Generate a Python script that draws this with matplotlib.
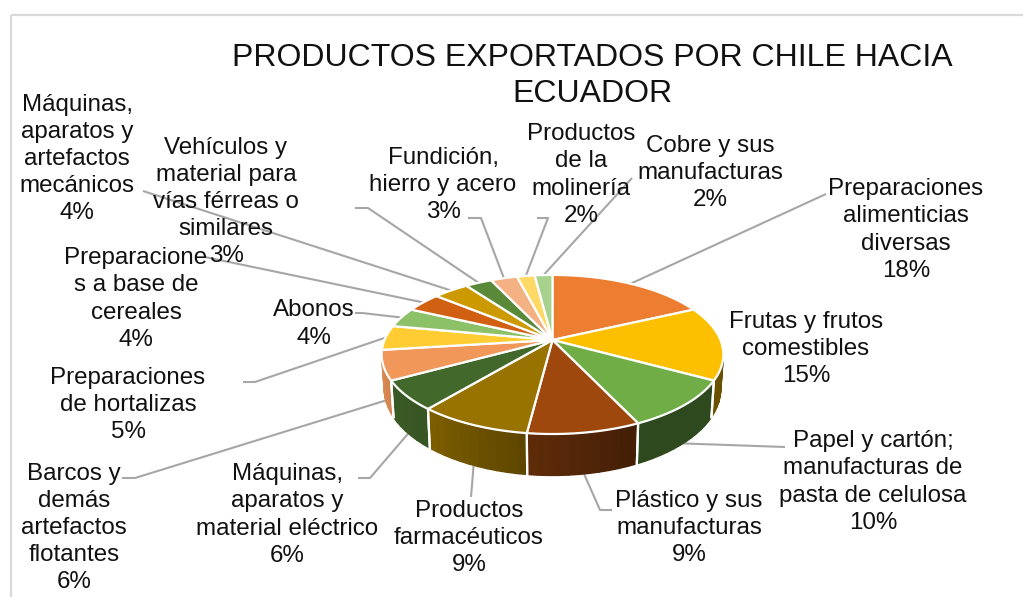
import numpy as np
import matplotlib
matplotlib.use("Agg")
import matplotlib.pyplot as plt
from matplotlib.colors import to_rgb
from matplotlib.patches import Polygon, Rectangle

plt.rcParams['font.family'] = ['Liberation Sans', 'DejaVu Sans']

TITLE = "PRODUCTOS EXPORTADOS POR CHILE HACIA\nECUADOR"
labels = ["Preparaciones\nalimenticias\ndiversas", "Frutas y frutos\ncomestibles",
          "Papel y cartón;\nmanufacturas de\npasta de celulosa", "Plástico y sus\nmanufacturas",
          "Productos\nfarmacéuticos", "Máquinas,\naparatos y\nmaterial eléctrico",
          "Barcos y\ndemás\nartefactos\nflotantes", "Preparaciones\nde hortalizas",
          "Abonos", "Preparacione\ns a base de\ncereales",
          "Máquinas,\naparatos y\nartefactos\nmecánicos",
          "Vehículos y\nmaterial para\nvías férreas o\nsimilares",
          "Fundición,\nhierro y acero", "Productos\nde la\nmolinería", "Cobre y sus\nmanufacturas"]
values = [18, 15, 10, 9, 9, 6, 6, 5, 4, 4, 4, 3, 3, 2, 2]
colors = ["#ED7D31", "#FCC000", "#70AD47", "#9E480E", "#997300", "#43682B",
          "#F1975A", "#FFCD33", "#8CC168", "#D26012", "#CC9A00", "#5A8A39",
          "#F4B183", "#FFD966", "#A9D18E"]

# pie geometry in pixels
CX, CY, RX, RY, K = 552.5, 340.0, 168.0, 76.9, 0.182
WALL_SX, WALL_SY, WALL_D = 0.985, 1.09, 33.0
GREY = "#A6A6A6"

# label centre and leader waypoints from label towards pie; wall=True ends on lower edge
label_pos = [(906, 230), (806, 349), (873, 482), (689, 528), (469, 538), (287, 515),
             (74, 528), (128, 405), (314, 324), (136, 299), (77, 159), (226, 202),
             (443, 185), (581, 175), (710, 173)]
leaders = [[(826, 194)], None, [(785, 447)], [(612, 510), (600, 510)], [(471, 497)],
           [(358, 478), (370, 478)], [(122, 478), (135, 478)], [(243, 382), (255, 382)],
           [(355, 313), (362, 313)], [(205, 257)], [(143, 191)], [(355, 208), (368, 208)],
           [(468, 218), (481, 218)], [(537, 218), (548, 218)], [(632, 178)]]
wall_end = [False, False, True, True, True, True, True] + [False] * 8


def top_xy(theta):
    t = np.radians(theta)
    u, v = np.sin(t), np.cos(t)
    d = 1 + K * v
    return RX * u / d, -RY * v / d


def to_top(theta):
    x, y = top_xy(theta)
    return CX + x, CY + y


def to_bottom(theta):
    x, y = top_xy(theta)
    return CX + WALL_SX * x, CY + WALL_D + WALL_SY * y


def shade(theta):
    return np.interp(theta, [100, 155, 190, 220, 240, 270], [.42, .42, .62, .82, .87, .92])


fig = plt.figure(figsize=(10.23, 5.97), dpi=100)
ax = fig.add_axes([0, 0, 1, 1])
ax.set_xlim(0, 1023)
ax.set_ylim(597, 0)
ax.axis("off")

ax.add_patch(Rectangle((10.5, 15), 1100, 700, fill=False, ec="#D9D9D9", lw=1.6, zorder=0))

edges = np.concatenate([[0], np.cumsum(values)]) / np.sum(values) * 360.0

# leader lines
for i, path in enumerate(leaders):
    if path is None:
        continue
    mid = (edges[i] + edges[i + 1]) / 2
    end = to_bottom(mid) if wall_end[i] else to_top(mid)
    pts = np.array(path + [end])
    ax.plot(pts[:, 0], pts[:, 1], color=GREY, lw=1.5, zorder=1, solid_capstyle="butt")

# side walls
WALL_LO, WALL_HI = 97.0, 262.0
for i in range(len(values)):
    lo, hi = max(edges[i], WALL_LO), min(edges[i + 1], WALL_HI)
    if hi <= lo:
        continue
    ts = np.linspace(lo, hi, max(3, int((hi - lo) / 2.5)))
    base = np.array(to_rgb(colors[i]))
    for a, b in zip(ts[:-1], ts[1:]):
        quad = [to_top(a), to_top(b), to_bottom(b), to_bottom(a)]
        c = base * shade((a + b) / 2)
        ax.add_patch(Polygon(quad, closed=True, fc=c, ec=c, lw=1.0, zorder=2))
    for t in (edges[i], edges[i + 1]):
        if WALL_LO < t < WALL_HI:
            ax.plot(*zip(to_top(t), to_bottom(t)), color="white", lw=1.6, zorder=3)

# top faces
for i in range(len(values)):
    ts = np.linspace(edges[i], edges[i + 1], 60)
    poly = [(CX, CY)] + [to_top(t) for t in ts]
    ax.add_patch(Polygon(poly, closed=True, fc=colors[i], ec="white", lw=1.6,
                         joinstyle="round", zorder=4))

# labels
for name, val, (x, y) in zip(labels, values, label_pos):
    ax.text(x, y, f"{name}\n{val}%", ha="center", va="center", fontsize=17.4,
            linespacing=1.3, color="#111111", zorder=6)

ax.text(592, 76, TITLE, ha="center", va="center", fontsize=23.0, linespacing=1.24,
        color="#111111", zorder=6)

fig.savefig("out.png", dpi=100, facecolor="white")
